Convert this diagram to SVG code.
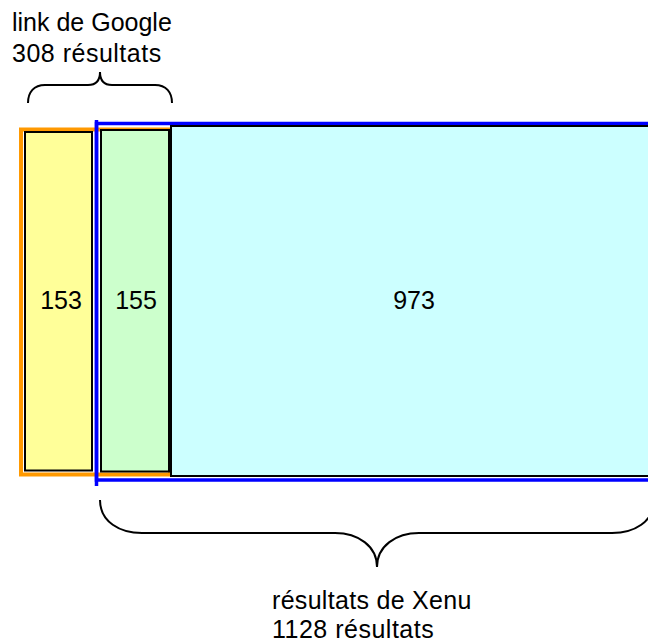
<svg xmlns="http://www.w3.org/2000/svg" width="648" height="644" viewBox="0 0 648 644">
<style>
text{font-family:"Liberation Sans",Arial,sans-serif;font-size:25px;fill:#000}
.wide{letter-spacing:0.5px}
.box{stroke:#000;stroke-width:2}
.brace{fill:none;stroke:#000;stroke-width:2}
</style>
<rect width="648" height="644" fill="#fff"/>
<g id="google-set">
<rect x="21" y="129.5" width="149" height="345" fill="none" stroke="#FF9900" stroke-width="4"/>
</g>
<g id="xenu-set">
<rect x="96.5" y="123.5" width="560" height="356.5" fill="none" stroke="#0000FF" stroke-width="3.5"/>
<line x1="96.5" y1="120" x2="96.5" y2="486" stroke="#0000FF" stroke-width="3.5"/>
</g>
<g id="n153">
<rect class="box" x="25" y="132" width="67" height="338.5" fill="#FFFF99"/>
<text x="61" y="309" text-anchor="middle">153</text>
</g>
<g id="n155">
<rect class="box" x="101" y="130" width="68" height="341.5" fill="#CCFFCC"/>
<text x="136" y="309" text-anchor="middle">155</text>
</g>
<g id="n973">
<rect class="box" x="171" y="126" width="490" height="350" fill="#CCFFFF"/>
<text x="414" y="309" text-anchor="middle">973</text>
</g>
<g id="connectors">
<path class="brace" d="M28,103 C28,92 34,85 45,85 L88,85 C96,85 100,80 100,72 C100,80 104,85 112,85 L155,85 C166,85 172,92 172,103"/>
<path class="brace" d="M100,500 C100,522 120,533 142,533 L335,533 C358,533 377,546 377,567 C377,546 396,533 419,533 L612,533 C634,533 654,522 654,500"/>
</g>
<g id="labels">
<text x="12" y="31">link de Google</text>
<text x="12" y="62" class="wide">308 résultats</text>
<text x="272" y="609" style="letter-spacing:0.3px">résultats de Xenu</text>
<text x="272" y="638" class="wide">1128 résultats</text>
</g>
</svg>
